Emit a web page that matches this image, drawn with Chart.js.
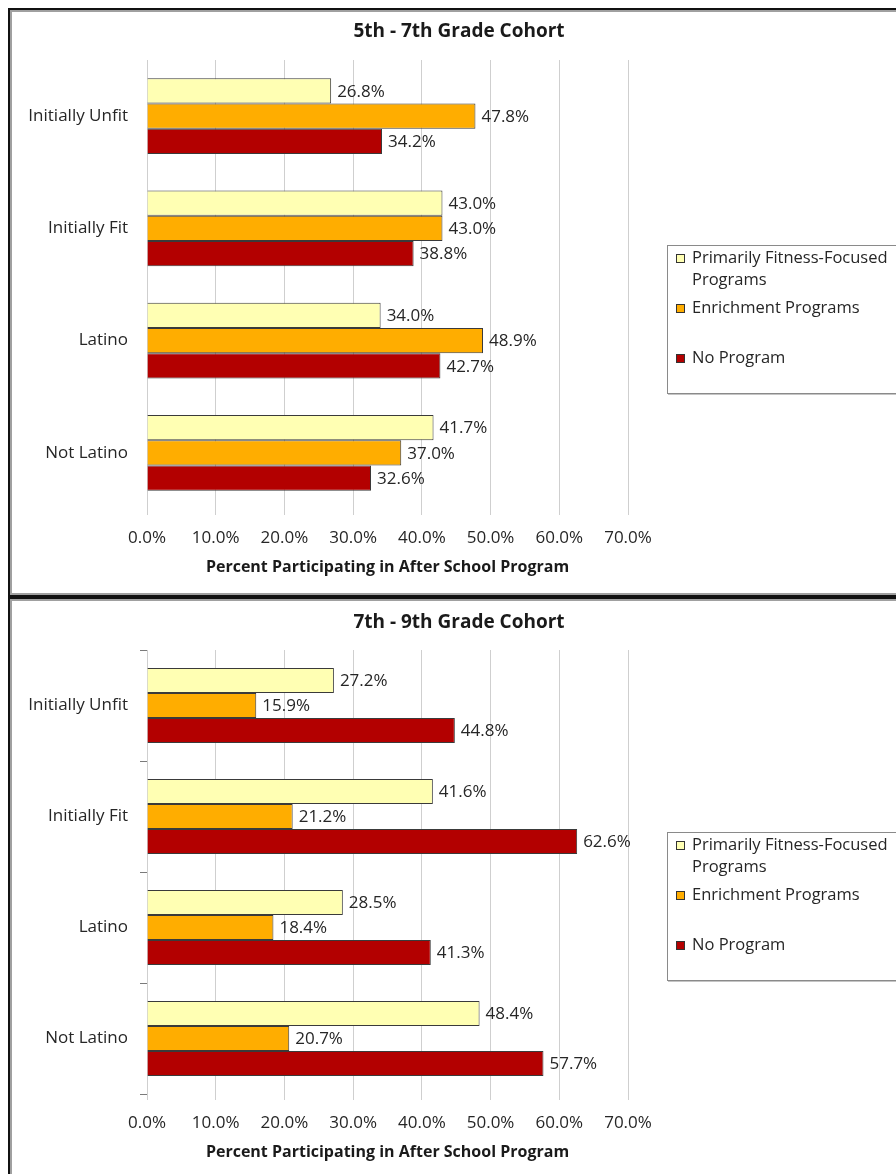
<!DOCTYPE html>
<html>
<head>
<meta charset="utf-8">
<title>After School Program Participation</title>
<script src="https://cdn.jsdelivr.net/npm/chart.js@4.4.1/dist/chart.umd.min.js"></script>
<style>
  html, body { margin: 0; padding: 0; background: #fff; width: 896px; height: 1174px; overflow: hidden; }
  .frame {
    position: absolute; left: 8px; width: 920px;
    border: 2px solid #111; box-shadow: inset 0 0 0 2px #a0a0a0;
    box-sizing: border-box; background: #fff;
  }
  canvas { position: absolute; left: 0; }
</style>
</head>
<body>
<div class="frame" style="top:8px;height:589px;"></div>
<div class="frame" style="top:597px;height:620px;"></div>
<canvas id="cohort57" width="918" height="587" style="top:8px;"></canvas>
<canvas id="cohort79" width="918" height="577" style="top:597px;"></canvas>
<script>
// Groups and series
const categories = ['Initially Unfit', 'Initially Fit', 'Latino', 'Not Latino'];
const seriesNames = ['Primarily Fitness-Focused Programs', 'Enrichment Programs', 'No Program'];
const seriesColors = ['#FFFFB3', '#FFAD00', '#B30000'];

// 5th - 7th grade cohort (% participating)
const fitness57 = [26.8, 43.0, 34.0, 41.7];
const enrichment57 = [47.8, 43.0, 48.9, 37.0];
const noProgram57 = [34.2, 38.8, 42.7, 32.6];

// 7th - 9th grade cohort (% participating)
const fitness79 = [27.2, 41.6, 28.5, 48.4];
const enrichment79 = [15.9, 21.2, 18.4, 20.7];
const noProgram79 = [44.8, 62.6, 41.3, 57.7];

// x axis ticks
const xTicks = [0, 10, 20, 30, 40, 50, 60, 70];
const xTitle = 'Percent Participating in After School Program';

const FONT = "'Open Sans', 'Noto Sans', sans-serif";
const TEXT = '#262626';

// draws the chart heading, the value labels and the boxed legend
const cohortDecor = {
    id: 'cohortDecor',
    afterDatasetsDraw(chart) {
        const ctx = chart.ctx;
        ctx.save();
        ctx.font = '17px ' + FONT;
        ctx.fillStyle = TEXT;
        ctx.textAlign = 'left';
        ctx.textBaseline = 'middle';
        chart.data.datasets.forEach((ds, i) => {
            chart.getDatasetMeta(i).data.forEach((bar, j) => {
                ctx.fillText(ds.data[j].toFixed(1) + '%', bar.x + 6, bar.y + 1);
            });
        });
        ctx.restore();
    },
    afterDraw(chart, args, opts) {
        const ctx = chart.ctx;
        ctx.save();

        // heading
        ctx.font = 'bold 19px ' + FONT;
        ctx.fillStyle = '#1a1a1a';
        ctx.textAlign = 'center';
        ctx.textBaseline = 'middle';
        ctx.fillText(opts.heading, chart.width / 2, opts.headingY);

        // legend box
        const bx = 667, by = opts.legendTop, bw = 260, bh = 148;
        ctx.fillStyle = '#fff';
        ctx.fillRect(bx, by, bw, bh);
        ctx.strokeStyle = '#8a8a8a';
        ctx.lineWidth = 1;
        ctx.strokeRect(bx + 0.5, by + 0.5, bw, bh);
        ctx.strokeStyle = '#c4c4c4';
        ctx.beginPath();
        ctx.moveTo(bx + 1, by + bh + 1.5);
        ctx.lineTo(bx + bw, by + bh + 1.5);
        ctx.stroke();

        ctx.font = '16.5px ' + FONT;
        ctx.textAlign = 'left';
        chart.data.datasets.forEach((ds, i) => {
            const y = by + 13 + i * 50;
            ctx.fillStyle = ds.backgroundColor;
            ctx.fillRect(676, y - 4, 9, 9);
            ctx.strokeStyle = '#333';
            ctx.strokeRect(676.5, y - 3.5, 8, 8);

            // wrap long names inside the box
            const words = ds.label.split(' ');
            const lines = [];
            let line = '';
            words.forEach(w => {
                const test = line ? line + ' ' + w : w;
                if (line && ctx.measureText(test).width > 215) {
                    lines.push(line);
                    line = w;
                } else {
                    line = test;
                }
            });
            lines.push(line);
            ctx.fillStyle = TEXT;
            lines.forEach((l, k) => ctx.fillText(l, 692, y + k * 22));
        });
        ctx.restore();
    }
};

function makeCohortChart(canvasId, heading, values, layout) {
    const datasets = values.map((vals, i) => ({
        label: seriesNames[i],
        data: vals,
        backgroundColor: seriesColors[i],
        borderColor: '#3a3a3a',
        borderWidth: 1,
        categoryPercentage: 0.675,
        barPercentage: 1.0
    }));

    return new Chart(document.getElementById(canvasId), {
        type: 'bar',
        data: { labels: categories, datasets: datasets },
        plugins: [cohortDecor],
        options: {
            indexAxis: 'y',
            responsive: false,
            animation: false,
            layout: {
                padding: { left: 10, right: 290, top: layout.plotTop, bottom: layout.bottomPad }
            },
            plugins: {
                legend: { display: false },
                tooltip: { enabled: false },
                cohortDecor: {
                    heading: heading,
                    headingY: layout.headingY,
                    legendTop: layout.legendTop
                }
            },
            scales: {
                x: {
                    min: xTicks[0],
                    max: xTicks[xTicks.length - 1],
                    afterBuildTicks: scale => {
                        scale.ticks = xTicks.map(v => ({ value: v }));
                    },
                    afterFit: scale => { scale.height = 76; },
                    grid: { color: '#cfcfcf', lineWidth: 1, tickLength: 6 },
                    border: { display: false },
                    ticks: {
                        padding: 13,
                        color: TEXT,
                        font: { family: FONT, size: 17 },
                        callback: v => Number(v).toFixed(1) + '%'
                    },
                    title: {
                        display: true,
                        text: xTitle,
                        color: '#1a1a1a',
                        font: { family: FONT, size: 16, weight: 'bold' },
                        padding: { top: 0, bottom: 8 }
                    }
                },
                y: {
                    afterFit: scale => { scale.width = 137; },
                    grid: {
                        display: layout.yTicks,
                        drawOnChartArea: false,
                        drawTicks: layout.yTicks,
                        tickLength: 7,
                        color: '#7a7a7a'
                    },
                    border: { display: true, color: '#cfcfcf' },
                    ticks: {
                        padding: layout.yTicks ? 12 : 19,
                        color: TEXT,
                        font: { family: FONT, size: 17 }
                    }
                }
            }
        }
    });
}

document.addEventListener('DOMContentLoaded', function() {
    makeCohortChart('cohort57', '5th - 7th Grade Cohort',
        [fitness57, enrichment57, noProgram57],
        { plotTop: 52, bottomPad: 10, headingY: 24, legendTop: 237, yTicks: false });

    makeCohortChart('cohort79', '7th - 9th Grade Cohort',
        [fitness79, enrichment79, noProgram79],
        { plotTop: 53, bottomPad: 4, headingY: 26, legendTop: 235, yTicks: true });
});
</script>
</body>
</html>
